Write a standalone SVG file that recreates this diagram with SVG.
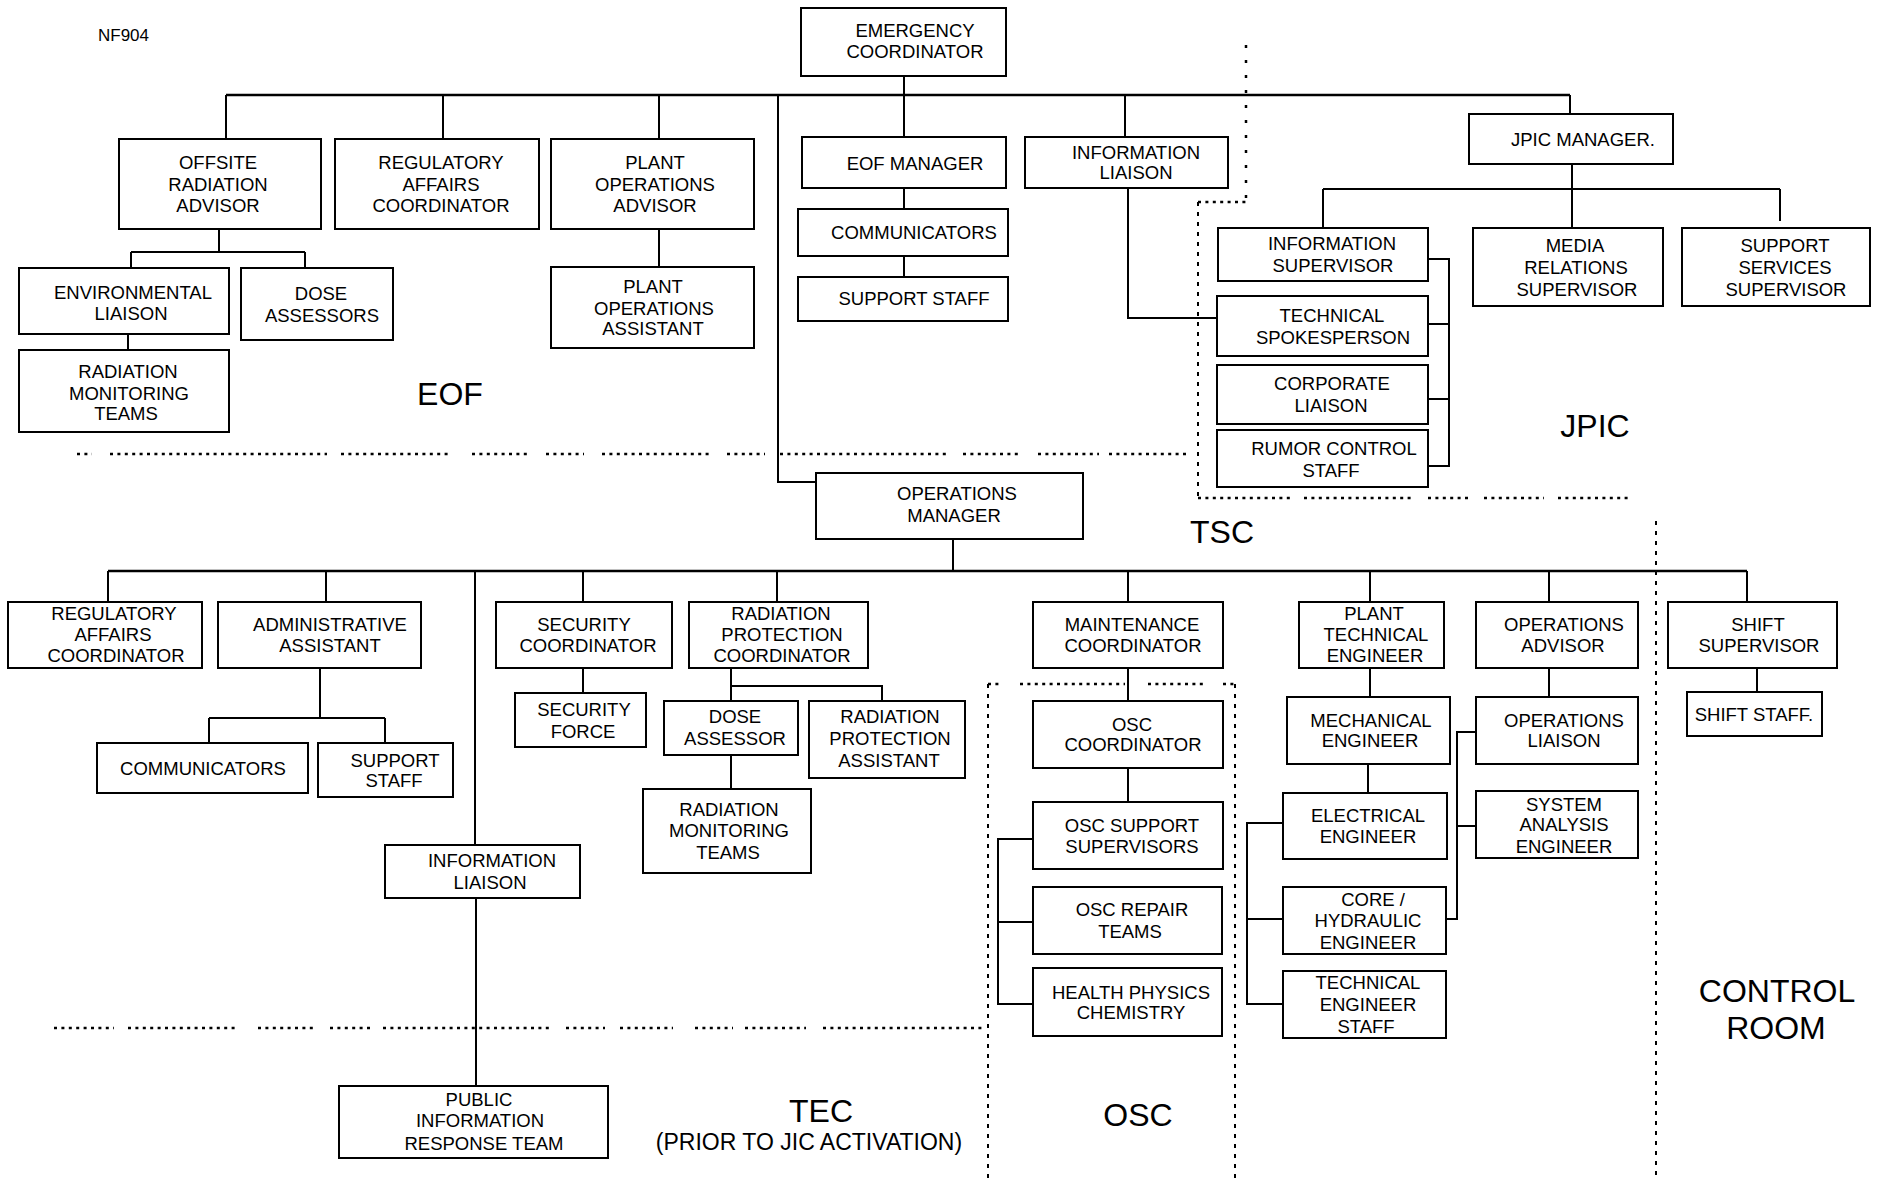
<svg xmlns="http://www.w3.org/2000/svg" width="1879" height="1178" viewBox="0 0 1879 1178">
  <style>
    .box { fill: #fff; stroke: #000; stroke-width: 2; }
    .lbl { font-family: "Liberation Sans", Arial, sans-serif; font-size: 18.5px; fill: #000; text-anchor: middle; }
    .zone { font-family: "Liberation Sans", Arial, sans-serif; font-size: 32px; fill: #000; text-anchor: middle; }
    .sub { font-family: "Liberation Sans", Arial, sans-serif; font-size: 23px; fill: #000; text-anchor: middle; }
    .tag { font-family: "Liberation Sans", Arial, sans-serif; font-size: 17px; fill: #000; }
    .conn path { fill: none; stroke: #000; stroke-width: 2; }
    .conn .bar { stroke-width: 2.5; }
    .dots path { fill: none; stroke: #000; stroke-width: 2.5; }
    .dots .h { stroke-dasharray: 3 4.4; }
    .dots .v { stroke-dasharray: 4 6; stroke-width: 2; }
    .dots .sparse { stroke-dasharray: 3 12; }
  </style>

  <text class="tag" x="98" y="41">NF904</text>

  <!-- facility boundaries -->
  <g id="boundaries" class="dots">
    <path class="h" d="M77 454H92M110 454H327M341 454H449M472 454H528M546 454H584M602 454H713M727 454H765M780 454H948M963 454H1022M1038 454H1099M1109 454H1190"/>
    <path class="sparse" d="M1246 45V202"/>
    <path class="h" d="M1198 202H1246"/>
    <path class="v" d="M1198 202V498"/>
    <path class="h" d="M1198 498H1292M1304 498H1414M1428 498H1470M1484 498H1544M1558 498H1628"/>
    <path class="v" d="M1656 521V1178"/>
    <path class="h" d="M988 684H1000M1020 684H1125M1148 684H1205M1223 684H1235"/>
    <path class="v" d="M988 684V1178M1235 684V1178"/>
    <path class="h" d="M54 1028H114M128 1028H237M258 1028H314M330 1028H371M383 1028H551M566 1028H605M620 1028H673M695 1028H733M745 1028H806M823 1028H985"/>
  </g>

  <!-- reporting lines -->
  <g id="connectors" class="conn">
    <path d="M904 76V137"/>
    <path class="bar" d="M226 95H1570"/>
    <path d="M226 95V139M443 95V139M659 95V139M1125 95V137M1570 95V114"/>
    <path d="M778 95V482H816"/>
    <path d="M219 229V252M131 252H305M131 252V268M305 252V268"/>
    <path d="M128 334V350"/>
    <path d="M659 229V267"/>
    <path d="M904 188V209M904 256V277"/>
    <path d="M1128 188V318H1217"/>
    <path d="M1572 164V228M1323 189H1780M1323 189V228M1780 189V221"/>
    <path d="M1428 259H1449V466H1428M1428 324H1449M1428 399H1449"/>
    <path d="M953 539V571"/>
    <path class="bar" d="M108 571H1747"/>
    <path d="M108 571V602M326 571V602M583 571V602M777 571V602M1128 571V602M1370 571V602M1549 571V602M1747 571V602"/>
    <path d="M475 571V845M476 898V1086"/>
    <path d="M320 668V718M209 718H385M209 718V743M385 718V743"/>
    <path d="M583 668V693"/>
    <path d="M731 668V686H882V701M731 686V701"/>
    <path d="M731 755V789"/>
    <path d="M1128 668V701M1128 768V802"/>
    <path d="M1033 839H998V1004H1033M998 922H1033"/>
    <path d="M1370 668V697M1368 764V793"/>
    <path d="M1283 823H1247V1004H1283M1247 919H1283"/>
    <path d="M1549 668V697"/>
    <path d="M1476 732H1457V919H1446M1457 826H1476"/>
    <path d="M1757 668V692"/>
  </g>

  <!-- EOF -->
  <g id="emergency-coordinator"><rect class="box" x="801" y="8" width="205" height="68"/>
    <text class="lbl"><tspan x="915" y="37">EMERGENCY</tspan><tspan x="915" y="58">COORDINATOR</tspan></text></g>
  <g id="offsite-radiation-advisor"><rect class="box" x="119" y="139" width="202" height="90"/>
    <text class="lbl"><tspan x="218" y="169">OFFSITE</tspan><tspan x="218" y="190.5">RADIATION</tspan><tspan x="218" y="212">ADVISOR</tspan></text></g>
  <g id="eof-regulatory-affairs"><rect class="box" x="335" y="139" width="204" height="90"/>
    <text class="lbl"><tspan x="441" y="169">REGULATORY</tspan><tspan x="441" y="190.5">AFFAIRS</tspan><tspan x="441" y="212">COORDINATOR</tspan></text></g>
  <g id="plant-operations-advisor"><rect class="box" x="551" y="139" width="203" height="90"/>
    <text class="lbl"><tspan x="655" y="169">PLANT</tspan><tspan x="655" y="190.5">OPERATIONS</tspan><tspan x="655" y="212">ADVISOR</tspan></text></g>
  <g id="eof-manager"><rect class="box" x="802" y="137" width="204" height="51"/>
    <text class="lbl" x="915" y="169.5">EOF MANAGER</text></g>
  <g id="eof-communicators"><rect class="box" x="798" y="209" width="210" height="47"/>
    <text class="lbl" x="914" y="239">COMMUNICATORS</text></g>
  <g id="eof-support-staff"><rect class="box" x="798" y="277" width="210" height="44"/>
    <text class="lbl" x="914" y="304.5">SUPPORT STAFF</text></g>
  <g id="eof-information-liaison"><rect class="box" x="1025" y="137" width="203" height="51"/>
    <text class="lbl"><tspan x="1136" y="158.5">INFORMATION</tspan><tspan x="1136" y="179">LIAISON</tspan></text></g>
  <g id="environmental-liaison"><rect class="box" x="19" y="268" width="210" height="66"/>
    <text class="lbl"><tspan x="133" y="298.5">ENVIRONMENTAL</tspan><tspan x="131" y="319.5">LIAISON</tspan></text></g>
  <g id="dose-assessors"><rect class="box" x="241" y="268" width="152" height="72"/>
    <text class="lbl"><tspan x="321" y="300">DOSE</tspan><tspan x="322" y="321.5">ASSESSORS</tspan></text></g>
  <g id="eof-radiation-monitoring-teams"><rect class="box" x="19" y="350" width="210" height="82"/>
    <text class="lbl"><tspan x="128" y="378">RADIATION</tspan><tspan x="129" y="399.5">MONITORING</tspan><tspan x="126" y="420">TEAMS</tspan></text></g>
  <g id="plant-operations-assistant"><rect class="box" x="551" y="267" width="203" height="81"/>
    <text class="lbl"><tspan x="653" y="292.5">PLANT</tspan><tspan x="654" y="314.5">OPERATIONS</tspan><tspan x="653" y="335">ASSISTANT</tspan></text></g>

  <!-- JPIC -->
  <g id="jpic-manager"><rect class="box" x="1469" y="114" width="204" height="50"/>
    <text class="lbl" x="1583" y="145.5">JPIC MANAGER.</text></g>
  <g id="information-supervisor"><rect class="box" x="1218" y="228" width="210" height="53"/>
    <text class="lbl"><tspan x="1332" y="249.5">INFORMATION</tspan><tspan x="1333" y="271.5">SUPERVISOR</tspan></text></g>
  <g id="media-relations-supervisor"><rect class="box" x="1473" y="228" width="190" height="78"/>
    <text class="lbl"><tspan x="1575" y="252">MEDIA</tspan><tspan x="1576" y="273.5">RELATIONS</tspan><tspan x="1577" y="295.5">SUPERVISOR</tspan></text></g>
  <g id="support-services-supervisor"><rect class="box" x="1682" y="228" width="188" height="78"/>
    <text class="lbl"><tspan x="1785" y="252">SUPPORT</tspan><tspan x="1785" y="273.5">SERVICES</tspan><tspan x="1786" y="295.5">SUPERVISOR</tspan></text></g>
  <g id="technical-spokesperson"><rect class="box" x="1217" y="296" width="211" height="60"/>
    <text class="lbl"><tspan x="1332" y="321.5">TECHNICAL</tspan><tspan x="1333" y="343.5">SPOKESPERSON</tspan></text></g>
  <g id="corporate-liaison"><rect class="box" x="1217" y="365" width="211" height="59"/>
    <text class="lbl"><tspan x="1332" y="390">CORPORATE</tspan><tspan x="1331" y="411.5">LIAISON</tspan></text></g>
  <g id="rumor-control-staff"><rect class="box" x="1217" y="430" width="211" height="57"/>
    <text class="lbl"><tspan x="1334" y="454.5">RUMOR CONTROL</tspan><tspan x="1331" y="476.5">STAFF</tspan></text></g>

  <!-- TSC -->
  <g id="operations-manager"><rect class="box" x="816" y="473" width="267" height="66"/>
    <text class="lbl"><tspan x="957" y="500">OPERATIONS</tspan><tspan x="954" y="521.5">MANAGER</tspan></text></g>
  <g id="tsc-regulatory-affairs"><rect class="box" x="8" y="602" width="194" height="66"/>
    <text class="lbl"><tspan x="114" y="620">REGULATORY</tspan><tspan x="113" y="641">AFFAIRS</tspan><tspan x="116" y="662">COORDINATOR</tspan></text></g>
  <g id="administrative-assistant"><rect class="box" x="218" y="602" width="203" height="66"/>
    <text class="lbl"><tspan x="330" y="630.5">ADMINISTRATIVE</tspan><tspan x="330" y="651.5">ASSISTANT</tspan></text></g>
  <g id="security-coordinator"><rect class="box" x="496" y="602" width="176" height="66"/>
    <text class="lbl"><tspan x="584" y="630.5">SECURITY</tspan><tspan x="588" y="651.5">COORDINATOR</tspan></text></g>
  <g id="radiation-protection-coordinator"><rect class="box" x="689" y="602" width="179" height="66"/>
    <text class="lbl"><tspan x="781" y="620">RADIATION</tspan><tspan x="782" y="641">PROTECTION</tspan><tspan x="782" y="662">COORDINATOR</tspan></text></g>
  <g id="maintenance-coordinator"><rect class="box" x="1033" y="602" width="190" height="66"/>
    <text class="lbl"><tspan x="1132" y="630.5">MAINTENANCE</tspan><tspan x="1133" y="651.5">COORDINATOR</tspan></text></g>
  <g id="plant-technical-engineer"><rect class="box" x="1299" y="602" width="145" height="66"/>
    <text class="lbl"><tspan x="1374" y="620">PLANT</tspan><tspan x="1376" y="641">TECHNICAL</tspan><tspan x="1375" y="662">ENGINEER</tspan></text></g>
  <g id="operations-advisor"><rect class="box" x="1476" y="602" width="162" height="66"/>
    <text class="lbl"><tspan x="1564" y="630.5">OPERATIONS</tspan><tspan x="1563" y="651.5">ADVISOR</tspan></text></g>
  <g id="tsc-communicators"><rect class="box" x="97" y="743" width="211" height="50"/>
    <text class="lbl" x="203" y="774.5">COMMUNICATORS</text></g>
  <g id="tsc-support-staff"><rect class="box" x="318" y="743" width="135" height="54"/>
    <text class="lbl"><tspan x="395" y="766.5">SUPPORT</tspan><tspan x="394" y="786.5">STAFF</tspan></text></g>
  <g id="security-force"><rect class="box" x="515" y="693" width="131" height="54"/>
    <text class="lbl"><tspan x="584" y="715.5">SECURITY</tspan><tspan x="583" y="737.5">FORCE</tspan></text></g>
  <g id="dose-assessor"><rect class="box" x="664" y="701" width="134" height="54"/>
    <text class="lbl"><tspan x="735" y="723">DOSE</tspan><tspan x="735" y="744.5">ASSESSOR</tspan></text></g>
  <g id="radiation-protection-assistant"><rect class="box" x="809" y="701" width="156" height="77"/>
    <text class="lbl"><tspan x="890" y="723">RADIATION</tspan><tspan x="890" y="744.5">PROTECTION</tspan><tspan x="889" y="766.5">ASSISTANT</tspan></text></g>
  <g id="tsc-radiation-monitoring-teams"><rect class="box" x="643" y="789" width="168" height="84"/>
    <text class="lbl"><tspan x="729" y="815.5">RADIATION</tspan><tspan x="729" y="836.5">MONITORING</tspan><tspan x="728" y="858.5">TEAMS</tspan></text></g>
  <g id="mechanical-engineer"><rect class="box" x="1287" y="697" width="163" height="67"/>
    <text class="lbl"><tspan x="1371" y="726.5">MECHANICAL</tspan><tspan x="1370" y="747">ENGINEER</tspan></text></g>
  <g id="electrical-engineer"><rect class="box" x="1283" y="793" width="164" height="66"/>
    <text class="lbl"><tspan x="1368" y="821.5">ELECTRICAL</tspan><tspan x="1368" y="842.5">ENGINEER</tspan></text></g>
  <g id="core-hydraulic-engineer"><rect class="box" x="1283" y="887" width="163" height="67"/>
    <text class="lbl"><tspan x="1373" y="905.5">CORE  /</tspan><tspan x="1368" y="926.5">HYDRAULIC</tspan><tspan x="1368" y="948.5">ENGINEER</tspan></text></g>
  <g id="technical-engineer-staff"><rect class="box" x="1283" y="971" width="163" height="67"/>
    <text class="lbl"><tspan x="1368" y="989">TECHNICAL</tspan><tspan x="1368" y="1010.5">ENGINEER</tspan><tspan x="1366" y="1032.5">STAFF</tspan></text></g>
  <g id="operations-liaison"><rect class="box" x="1476" y="697" width="162" height="67"/>
    <text class="lbl"><tspan x="1564" y="726.5">OPERATIONS</tspan><tspan x="1564" y="747">LIAISON</tspan></text></g>
  <g id="system-analysis-engineer"><rect class="box" x="1476" y="791" width="162" height="67"/>
    <text class="lbl"><tspan x="1564" y="810.5">SYSTEM</tspan><tspan x="1564" y="831">ANALYSIS</tspan><tspan x="1564" y="852.5">ENGINEER</tspan></text></g>

  <!-- OSC -->
  <g id="osc-coordinator"><rect class="box" x="1033" y="701" width="190" height="67"/>
    <text class="lbl"><tspan x="1132" y="730.5">OSC</tspan><tspan x="1133" y="750.5">COORDINATOR</tspan></text></g>
  <g id="osc-support-supervisors"><rect class="box" x="1033" y="802" width="190" height="67"/>
    <text class="lbl"><tspan x="1132" y="832">OSC SUPPORT</tspan><tspan x="1132" y="852.5">SUPERVISORS</tspan></text></g>
  <g id="osc-repair-teams"><rect class="box" x="1033" y="887" width="189" height="67"/>
    <text class="lbl"><tspan x="1132" y="916">OSC REPAIR</tspan><tspan x="1130" y="937.5">TEAMS</tspan></text></g>
  <g id="health-physics-chemistry"><rect class="box" x="1033" y="968" width="189" height="68"/>
    <text class="lbl"><tspan x="1131" y="998.5">HEALTH PHYSICS</tspan><tspan x="1131" y="1019">CHEMISTRY</tspan></text></g>

  <!-- Control room -->
  <g id="shift-supervisor"><rect class="box" x="1668" y="602" width="169" height="66"/>
    <text class="lbl"><tspan x="1758" y="630.5">SHIFT</tspan><tspan x="1759" y="651.5">SUPERVISOR</tspan></text></g>
  <g id="shift-staff"><rect class="box" x="1687" y="692" width="135" height="44"/>
    <text class="lbl" x="1754" y="720.5">SHIFT STAFF.</text></g>

  <!-- TEC -->
  <g id="tec-information-liaison"><rect class="box" x="385" y="845" width="195" height="53"/>
    <text class="lbl"><tspan x="492" y="866.5">INFORMATION</tspan><tspan x="490" y="888.5">LIAISON</tspan></text></g>
  <g id="public-information-response-team"><rect class="box" x="339" y="1086" width="269" height="72"/>
    <text class="lbl"><tspan x="479" y="1105.5">PUBLIC</tspan><tspan x="480" y="1126.5">INFORMATION</tspan><tspan x="484" y="1149.5">RESPONSE TEAM</tspan></text></g>

  <!-- facility names -->
  <g id="facility-labels">
    <text class="zone" x="450" y="405">EOF</text>
    <text class="zone" x="1595" y="437">JPIC</text>
    <text class="zone" x="1222" y="543">TSC</text>
    <text class="zone" x="821" y="1122">TEC</text>
    <text class="sub" x="809" y="1150">(PRIOR TO JIC ACTIVATION)</text>
    <text class="zone" x="1138" y="1126">OSC</text>
    <text class="zone" x="1777" y="1002">CONTROL</text>
    <text class="zone" x="1776" y="1039">ROOM</text>
  </g>
</svg>
